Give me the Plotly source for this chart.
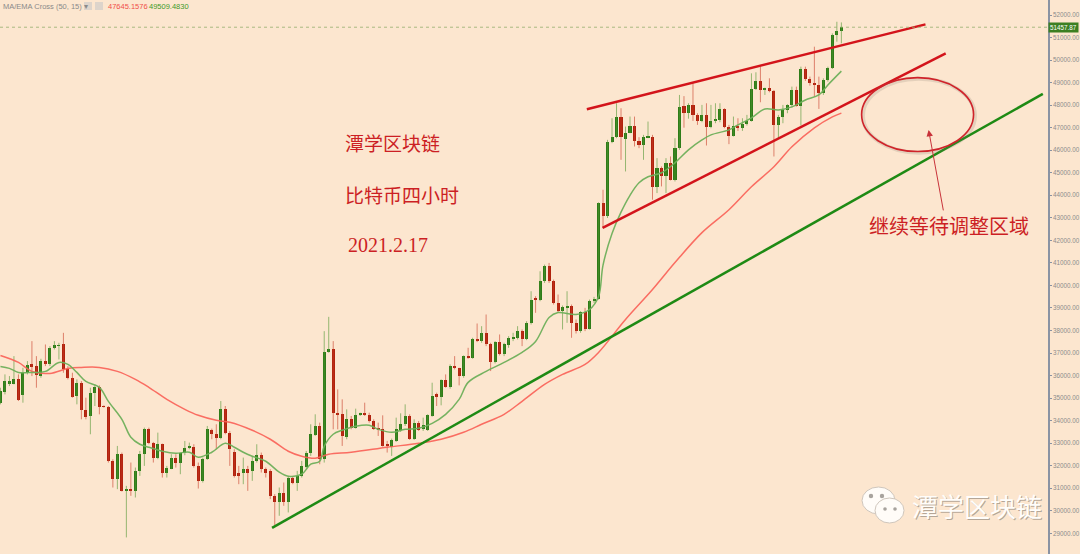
import plotly.graph_objects as go

# ---------------- data (BTC 4h candles) ----------------
opens = [34796, 35269, 35638, 35638, 35859, 35121, 36125, 36494, 36420, 35977,
         36642, 36494, 37232, 37321, 37380, 36302, 35903, 35091, 35682, 34457,
         34206, 35239, 35505, 34649, 34619, 32213, 31401, 32508, 30884, 30958,
         30884, 31770, 32508, 33645, 33025, 32360, 32951, 31666, 31873, 32360,
         32109, 32552, 32788, 32847, 31991, 31327, 32286, 33586, 33394, 33246,
         34501, 33468, 32600, 31696, 31696, 31844, 31770, 32213, 32479, 31844,
         31770, 30663, 30367, 30781, 30397, 31475, 31224, 31548, 31962, 32582,
         33350, 33763, 32287, 37040, 37158, 34353, 34280, 33290, 34058, 33689,
         34235, 34324, 34235, 33984, 33689, 33615, 32951, 32848, 33099, 33586,
         33837, 34206, 33172, 33881, 33645, 33586, 34206, 35166, 35060, 35800,
         35505, 36420, 36317, 35978, 36863, 36789, 37631, 37542, 37897, 37380,
         36598, 37483, 36967, 37350, 37660, 37675, 37971, 37631, 38340, 39447,
         39373, 40185, 40879, 40185, 39226, 38857, 39034, 39078, 38340, 37971,
         38812, 38074, 39299, 39403, 43655, 43064, 46386, 46578, 47493, 46500,
         46785, 47080, 46430, 46238, 46578, 46608, 44364, 45205, 44836, 45426,
         44688, 46091, 47960, 47650, 48010, 47567, 47301, 47567, 47050, 47301,
         47360, 47833, 47050, 46652, 47095, 47006, 47154, 47301, 48719, 49073,
         48674, 48740, 48630, 47124, 47493, 47789, 48010, 48674, 47981, 49604,
         49162, 48970, 48896, 48527, 49117, 49663, 51110, 51287]
highs = [35460, 36051, 35977, 36863, 36051, 36346, 36642, 37527, 36863, 36745,
         37380, 37306, 37527, 37453, 37896, 36420, 36125, 35830, 35756, 35018,
         35460, 35608, 35564, 34678, 34649, 32286, 32877, 32582, 31105, 32139,
         31917, 32656, 33689, 33689, 33054, 33467, 32980, 31991, 32508, 32508,
         32582, 33098, 33025, 32951, 32139, 32360, 33763, 33645, 33837, 34870,
         34649, 33542, 32730, 31991, 32360, 31991, 32434, 32951, 32582, 31918,
         31844, 30737, 31032, 31253, 31548, 31548, 31770, 32213, 32656, 33837,
         34280, 33911, 37970, 38605, 37528, 35387, 34944, 34501, 34206, 34531,
         34353, 34796, 34353, 34058, 33911, 34235, 33099, 33202, 34132, 34324,
         34723, 34280, 34058, 33984, 34132, 34280, 35682, 35239, 35830, 36051,
         36494, 36863, 36346, 36893, 37232, 37675, 38310, 38192, 38709, 37454,
         37528, 37823, 37454, 37749, 37897, 38192, 38044, 38413, 39742, 39521,
         40628, 40923, 40997, 40259, 39595, 39108, 39742, 39152, 38488, 38857,
         39004, 39373, 39491, 43685, 44245, 46460, 47419, 48084, 47862, 47050,
         47493, 47493, 46578, 46681, 47272, 46681, 45648, 45279, 45648, 45722,
         46534, 48453, 48400, 48084, 48970, 47641, 48010, 48084, 48010, 48084,
         48084, 47862, 47124, 47493, 47419, 47419, 47567, 49412, 49457, 49708,
         48778, 49191, 48674, 47567, 48010, 48040, 48822, 48822, 49708, 49708,
         49265, 50594, 49265, 49191, 49708, 51184, 51701, 51671]
lows = [34722, 35165, 35534, 35608, 34870, 34796, 36051, 35977, 35460, 35903,
        36420, 36420, 37158, 36715, 36125, 35830, 35018, 34722, 34058, 34058,
        33394, 34649, 34279, 34575, 32139, 31032, 30958, 30854, 28817, 30662,
        30589, 31548, 31991, 32951, 32139, 32286, 31474, 31474, 31844, 31917,
        31622, 32464, 32729, 31917, 30987, 31253, 32257, 33172, 32730, 33172,
        33394, 31991, 31475, 31179, 31179, 30884, 31327, 32139, 31696, 31475,
        30515, 29364, 29777, 30220, 29925, 31179, 30884, 31475, 31873, 32434,
        33320, 32065, 32139, 37011, 33615, 33615, 32877, 33172, 33615, 33645,
        34206, 34206, 33911, 33586, 33320, 32848, 32582, 32434, 33054, 33497,
        33763, 33143, 33143, 33542, 33542, 33542, 34176, 34649, 34679, 35461,
        35417, 36273, 35564, 35904, 36745, 36745, 37483, 37454, 37306, 36199,
        36539, 36893, 36863, 37232, 37528, 37602, 37306, 37572, 38266, 38783,
        39299, 40111, 40111, 39152, 38783, 38045, 38340, 37676, 37867, 37900,
        37971, 38045, 39226, 39373, 42548, 42991, 46312, 46534, 45574, 45057,
        46755, 46165, 46091, 45574, 46534, 43803, 44098, 44393, 44098, 44659,
        44614, 46017, 47000, 47400, 47300, 47124, 47242, 46209, 46976, 47198,
        47242, 46976, 46268, 46608, 46858, 46858, 47095, 47271, 48674, 48128,
        48453, 48571, 45722, 46534, 47198, 47641, 47892, 47936, 47095, 49073,
        48866, 48379, 47833, 48453, 49043, 49604, 50815, 50741]
closes = [35313, 35756, 35756, 35859, 34914, 36125, 36464, 36420, 36007, 36642,
          36494, 37232, 37335, 37350, 36302, 35903, 35062, 35682, 34457, 34176,
          35239, 35505, 34619, 34619, 32213, 31401, 32508, 30884, 30958, 30884,
          31770, 32508, 33645, 33025, 32360, 32951, 31696, 31917, 32360, 32139,
          32552, 32803, 32847, 31991, 31327, 32286, 33615, 33394, 33246, 34501,
          33468, 32730, 31548, 31548, 31844, 31696, 32213, 32479, 31844, 31696,
          30663, 30367, 30781, 30397, 31475, 31224, 31548, 31991, 32582, 33394,
          33763, 32287, 37040, 37158, 34353, 34265, 33320, 34058, 33689, 34235,
          34324, 34235, 33984, 33615, 33615, 32877, 32877, 33143, 33615, 33837,
          34206, 33172, 33881, 33586, 33792, 34235, 35092, 35060, 35786, 35505,
          36420, 36317, 35978, 36863, 36789, 37631, 37542, 37897, 37380, 36598,
          37483, 36967, 37380, 37675, 37720, 37971, 37631, 38340, 39373, 39344,
          40185, 40879, 40185, 39226, 38857, 39049, 39078, 38340, 37971, 38812,
          38074, 39299, 39403, 43655, 43064, 46386, 46578, 47493, 46608, 46785,
          47080, 46430, 46238, 46578, 46637, 44364, 45205, 44836, 45426, 44688,
          46091, 47936, 47650, 48010, 47567, 47301, 47567, 47050, 47301, 47360,
          47833, 47050, 46652, 47095, 47006, 47154, 47301, 48719, 49073, 48674,
          48740, 48630, 47124, 47493, 47789, 48010, 48674, 47981, 49604, 49162,
          48970, 48896, 48527, 49117, 49663, 51110, 51287, 51457.87]

# MA(50) (red) and EMA(15) (green), sampled along the picture
ma50_idx = [0, 4, 7, 11, 15, 18, 22, 26, 30, 33, 37, 41, 44, 48, 51, 56, 60, 64, 67, 70,
            73, 78, 86, 93, 98, 103, 107, 112, 116, 121, 125, 130, 133, 139, 145, 150,
            156, 162, 167, 172, 176, 181, 185, 187]
ma50_val = [36893, 36583, 36184, 36096, 36317, 36361, 36361, 36184, 35830, 35476, 34944,
            34501, 34235, 34014, 33926, 33571, 33173, 32641, 32420, 32331, 32508, 32597,
            32818, 32995, 33173, 33483, 33837, 34280, 34856, 35607, 36051, 36494, 37026,
            38487, 39816, 41012, 42341, 43359, 44378, 45264, 46150, 46991, 47478, 47645]
ema15_idx = [0, 2, 4, 7, 10, 13, 15, 17, 19, 22, 24, 27, 29, 31, 33, 36, 39, 42, 44, 47,
             50, 52, 54, 56, 59, 62, 64, 67, 69, 71, 72, 74, 76, 79, 82, 84, 87, 90, 93,
             96, 99, 102, 104, 108, 112, 116, 119, 122, 124, 128, 131, 133, 134, 136, 138,
             140, 142, 144, 147, 150, 153, 156, 158, 162, 164, 167, 170, 173, 176, 179,
             182, 184, 187]
ema15_val = [36406, 36317, 36140, 36140, 36184, 36583, 36494, 36140, 35741, 35476, 34856,
             34058, 33261, 32951, 32818, 32641, 32552, 32597, 32375, 32597, 32995, 32818,
             32597, 32420, 32198, 31711, 31534, 31622, 32065, 32198, 32862, 33394, 33571,
             33748, 33793, 33616, 33483, 33616, 33660, 33881, 34280, 34944, 35697, 36184,
             36583, 37026, 37513, 38576, 38797, 38709, 38930, 39506, 40900, 42300, 43250,
             44000, 44555, 44821, 44998, 45441, 46017, 46460, 46681, 46902, 47124, 47434,
             47833, 47788, 47921, 48231, 48453, 48895, 49509]

# hand-drawn analysis lines (candle index, price)
upper_idx, upper_px = [130.4, 205.7], [47819, 51584]
lower_idx, lower_px = [133.9, 210.2], [42549, 50299]
support_idx, support_px = [60.4, 231.8], [29244, 48497]
zone_idx, zone_px = [191.5, 216.4], [45941, 49219]
arrow_idx, arrow_px = 206.4, 46902

last_price = 51457.87
ma50_last = "47645.1576"
ema15_last = "49509.4830"
y_ticks = list(range(29000, 53000, 1000))
y_labels = [f"{v:.2f}" for v in y_ticks]

# ---------------- styling ----------------
BG = "#FCE6CF"
GREEN_BODY = "#2F7C19"
RED_BODY = "#B0220D"
GREEN_WICK = "rgba(80,150,50,0.6)"
RED_WICK = "rgba(200,60,40,0.6)"
TXT_RED = "#CC1F24"
W, H = 1048, 554  # plot area in px


def px(xp):
    return xp / W


def py(yp):
    return 1 - yp / H


idx = list(range(len(closes)))
is_up = [c >= o for o, c in zip(opens, closes)]

fig = go.Figure()

# wicks
for up, col in ((True, GREEN_WICK), (False, RED_WICK)):
    wx, wy = [], []
    for i in idx:
        if is_up[i] == up:
            wx += [i, i, None]
            wy += [lows[i], highs[i], None]
    fig.add_trace(go.Scatter(x=wx, y=wy, mode="lines", line=dict(color=col, width=1),
                             hoverinfo="skip", showlegend=False))

# bodies (bars spanning open..close)
body_base = [min(o, c) for o, c in zip(opens, closes)]
body_len = [max(abs(c - o), 25) for o, c in zip(opens, closes)]
fig.add_trace(go.Bar(
    x=idx, base=body_base, y=body_len, width=0.68,
    marker=dict(color=[GREEN_BODY if u else RED_BODY for u in is_up], line=dict(width=0)),
    showlegend=False, hoverinfo="skip"))

# moving averages
fig.add_trace(go.Scatter(x=ma50_idx, y=ma50_val, mode="lines", line_shape="spline",
                         line=dict(color="rgba(250,95,85,0.9)", width=1.5), showlegend=False))
fig.add_trace(go.Scatter(x=ema15_idx, y=ema15_val, mode="lines", line_shape="spline",
                         line=dict(color="rgba(110,175,90,0.95)", width=1.5), showlegend=False))

# trend lines
fig.add_trace(go.Scatter(x=upper_idx, y=upper_px, mode="lines",
                         line=dict(color="#D3141B", width=2.5), showlegend=False))
fig.add_trace(go.Scatter(x=lower_idx, y=lower_px, mode="lines",
                         line=dict(color="#D3141B", width=2.5), showlegend=False))
fig.add_trace(go.Scatter(x=support_idx, y=support_px, mode="lines",
                         line=dict(color="#1E8A14", width=2.5), showlegend=False))

shapes = []
# ellipse soft shadow + ellipse
shapes.append(dict(type="circle", xref="x", yref="y", x0=zone_idx[0] + 0.3, x1=zone_idx[1] + 0.3,
                   y0=zone_px[0] - 50, y1=zone_px[1] - 50,
                   line=dict(color="rgba(120,110,100,0.18)", width=4)))
shapes.append(dict(type="circle", xref="x", yref="y", x0=zone_idx[0], x1=zone_idx[1],
                   y0=zone_px[0], y1=zone_px[1], line=dict(color="#D0232A", width=1.6)))
# current price dotted line
shapes.append(dict(type="line", xref="paper", yref="y", x0=0, x1=1, y0=last_price, y1=last_price,
                   line=dict(color="rgba(150,175,110,0.8)", width=1, dash="dot")))
# wechat-like watermark icon
shapes.append(dict(type="circle", xref="paper", yref="paper",
                   x0=px(862), x1=px(895), y0=py(514), y1=py(487),
                   fillcolor="#FFFCF8", line=dict(color="#CFC6BC", width=1)))
shapes.append(dict(type="circle", xref="paper", yref="paper",
                   x0=px(875), x1=px(904), y0=py(523), y1=py(498),
                   fillcolor="#FFFCF8", line=dict(color="#CFC6BC", width=1)))
for cx, cy, r in ((871, 496, 2.2), (882, 496, 2.2), (885, 509, 1.8), (895, 509, 1.8)):
    shapes.append(dict(type="circle", xref="paper", yref="paper",
                       x0=px(cx - r), x1=px(cx + r), y0=py(cy + r), y1=py(cy - r),
                       fillcolor="#A8A39D", line=dict(width=0)))
# small toolbar boxes next to the indicator name
for bx in (84, 95):
    shapes.append(dict(type="rect", xref="paper", yref="paper",
                       x0=px(bx), x1=px(bx + 8), y0=py(10), y1=py(2),
                       fillcolor="rgba(200,200,200,0.6)", line=dict(width=0)))

annotations = [
    dict(x=px(1), y=py(6), xref="paper", yref="paper", text="MA/EMA Cross (50, 15) ▾",
         showarrow=False, xanchor="left", yanchor="middle",
         font=dict(family="Liberation Sans", size=7.5, color="#8a8a8a")),
    dict(x=px(106), y=py(6), xref="paper", yref="paper", text=ma50_last,
         showarrow=False, xanchor="left", yanchor="middle",
         font=dict(family="Liberation Sans", size=7.5, color="#F0504A")),
    dict(x=px(147), y=py(6), xref="paper", yref="paper", text=ema15_last,
         showarrow=False, xanchor="left", yanchor="middle",
         font=dict(family="Liberation Sans", size=7.5, color="#3E9A2A")),
    dict(x=1, y=last_price, xref="paper", yref="y", text=f"{last_price:.2f}",
         showarrow=False, xanchor="left", yanchor="middle", bgcolor="#3C7F22",
         borderpad=1, font=dict(family="Liberation Sans", size=6.3, color="white")),
    dict(x=px(343), y=py(142), xref="paper", yref="paper", text="潭学区块链",
         showarrow=False, xanchor="left", yanchor="middle",
         font=dict(family="Noto Sans CJK SC", size=19, color=TXT_RED)),
    dict(x=px(343), y=py(194), xref="paper", yref="paper", text="比特币四小时",
         showarrow=False, xanchor="left", yanchor="middle",
         font=dict(family="Noto Sans CJK SC", size=19, color=TXT_RED)),
    dict(x=px(346), y=py(245), xref="paper", yref="paper", text="2021.2.17",
         showarrow=False, xanchor="left", yanchor="middle",
         font=dict(family="Liberation Serif", size=20, color=TXT_RED)),
    dict(x=px(867), y=py(225), xref="paper", yref="paper", text="继续等待调整区域",
         showarrow=False, xanchor="left", yanchor="middle",
         font=dict(family="Noto Sans CJK SC", size=20, color=TXT_RED)),
    dict(x=arrow_idx, y=arrow_px, xref="x", yref="y", text="", showarrow=True,
         ax=15, ay=82, arrowhead=2, arrowsize=1.3, arrowwidth=1, arrowcolor="#C8323A"),
    # watermark text (shadow + white)
    dict(x=px(911), y=py(506), xref="paper", yref="paper", text="潭学区块链",
         showarrow=False, xanchor="left", yanchor="middle",
         font=dict(family="Noto Sans CJK SC", size=26, color="rgba(120,110,100,0.55)")),
    dict(x=px(910), y=py(505), xref="paper", yref="paper", text="潭学区块链",
         showarrow=False, xanchor="left", yanchor="middle",
         font=dict(family="Noto Sans CJK SC", size=26, color="#FFFDFA")),
]

fig.update_layout(
    width=1080, height=554,
    margin=dict(l=0, r=32, t=0, b=0),
    paper_bgcolor=BG, plot_bgcolor=BG,
    showlegend=False,
    shapes=shapes, annotations=annotations,
    xaxis=dict(range=[-0.1, 232.95], visible=False, fixedrange=True),
    yaxis=dict(range=[28081, 52666], side="right", tickvals=y_ticks, ticktext=y_labels,
               ticks="outside", ticklen=2, tickcolor="#8a93a3", showline=True,
               linecolor="#8a93a3", linewidth=1.5, showgrid=False, zeroline=False,
               ticklabelstandoff=0,
               tickfont=dict(family="Liberation Sans", size=6.3, color="#8c8c8c"),
               automargin=False, fixedrange=True),
    bargap=0,
)

fig.write_html("out.html", config={"displayModeBar": False},
               post_script="document.body.style.margin='0px';document.body.style.overflow='hidden';")
